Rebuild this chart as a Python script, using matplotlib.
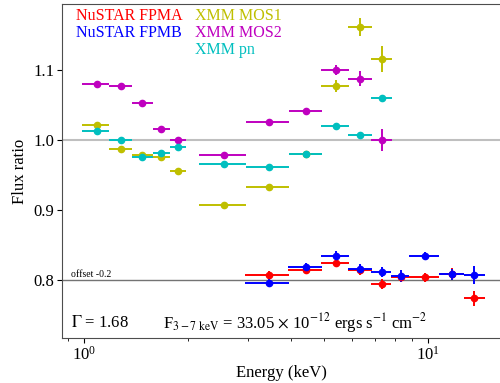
import matplotlib
matplotlib.use('Agg')
import matplotlib.pyplot as plt
import matplotlib.transforms as mtransforms

plt.rcParams['font.family'] = ['Liberation Serif', 'DejaVu Serif']
plt.rcParams['mathtext.fontset'] = 'stix'

# XMM energy bins (keV)
xmm_e = [1.089, 1.282, 1.479, 1.677, 1.871, 2.55, 3.44, 4.42, 5.39, 6.35, 7.34]
xmm_lo = [0.985, 1.185, 1.383, 1.582, 1.773, 2.154, 2.953, 3.94, 4.88, 5.86, 6.82]
xmm_hi = [1.185, 1.383, 1.582, 1.773, 1.983, 2.953, 3.94, 4.93, 5.90, 6.88, 7.85]

mos1 = [1.021, 0.987, 0.978, 0.975, 0.955, 0.907, 0.933, 0.980, 1.076, 1.161, 1.115]
mos1_err = [0.003, 0.002, 0.002, 0.003, 0.004, 0.002, 0.002, 0.003, 0.0085, 0.0125, 0.019]
mos2 = [1.079, 1.076, 1.053, 1.015, 1.000, 0.978, 1.025, 1.041, 1.099, 1.087, 1.000]
mos2_err = [0.002, 0.002, 0.002, 0.003, 0.003, 0.002, 0.002, 0.003, 0.007, 0.011, 0.016]
pn = [1.013, 1.000, 0.975, 0.981, 0.989, 0.965, 0.961, 0.980, 1.019, 1.007, 1.060]
pn_err = [0.001, 0.001, 0.001, 0.002, 0.002, 0.001, 0.001, 0.002, 0.003, 0.004, 0.004]

# NuSTAR energy bins (keV)
nu_e = [3.45, 4.41, 5.39, 6.35, 7.33, 8.34, 9.8, 11.73, 13.65]
nu_lo = [2.94, 3.93, 4.88, 5.86, 6.82, 7.83, 8.82, 10.75, 12.7]
nu_hi = [3.94, 4.93, 5.90, 6.88, 7.83, 8.82, 10.75, 12.7, 14.6]

fpma = [1.007, 1.014, 1.024, 1.014, 0.995, 1.004, 1.004, 1.009, 0.974]
fpma_err = [0.006, 0.006, 0.006, 0.007, 0.007, 0.007, 0.006, 0.008, 0.011]
fpmb = [0.996, 1.018, 1.035, 1.016, 1.011, 1.006, 1.034, 1.008, 1.007]
fpmb_err = [0.006, 0.006, 0.006, 0.007, 0.007, 0.008, 0.006, 0.008, 0.013]

offset = -0.2

fig = plt.figure(figsize=(5.0, 3.83), dpi=100)
ax = fig.add_axes([0.124, 0.1175, 0.878, 0.8721])


def plot_set(e, lo, hi, y, yerr, col, off=0.0):
    xerr = [[c - l for c, l in zip(e, lo)], [h - c for c, h in zip(e, hi)]]
    ax.errorbar(e, [v + off for v in y], xerr=xerr, yerr=yerr, fmt='o',
                color=col, ms=4.5, elinewidth=1.4, capsize=0, zorder=3)


ax.axhline(1.0, color='0.75', lw=1.5, zorder=1)
ax.axhline(1.0 + offset, color='0.45', lw=1.0, zorder=1)

plot_set(nu_e, nu_lo, nu_hi, fpma, fpma_err, 'red', offset)
plot_set(nu_e, nu_lo, nu_hi, fpmb, fpmb_err, 'blue', offset)
plot_set(xmm_e, xmm_lo, xmm_hi, mos1, mos1_err, 'y')
plot_set(xmm_e, xmm_lo, xmm_hi, mos2, mos2_err, 'm')
plot_set(xmm_e, xmm_lo, xmm_hi, pn, pn_err, 'c')

ax.set_xscale('log')
ax.set_xlim(0.863, 16.3)
ax.set_ylim(0.7175, 1.1935)
ax.set_yticks([0.8, 0.9, 1.0, 1.1])
ax.tick_params(labelsize=12, pad=2)
for s in ax.spines.values():
    s.set_color('0.3')
ax.spines['right'].set_visible(False)

ax.set_xlabel('Energy (keV)', fontsize=12, labelpad=1)
ax.set_ylabel('Flux ratio', fontsize=12, labelpad=4)

tA = ax.transAxes
ax.text(0.032, 0.964, 'NuSTAR FPMA', color='red', fontsize=11.5, va='center', transform=tA)
ax.text(0.032, 0.913, 'NuSTAR FPMB', color='blue', fontsize=11.5, va='center', transform=tA)
ax.text(0.304, 0.964, 'XMM MOS1', color='y', fontsize=11.5, va='center', transform=tA)
ax.text(0.304, 0.913, 'XMM MOS2', color='m', fontsize=11.5, va='center', transform=tA)
ax.text(0.304, 0.862, 'XMM pn', color='c', fontsize=11.5, va='center', transform=tA)

blend = mtransforms.blended_transform_factory(ax.transAxes, ax.transData)
ax.text(0.02, 0.8 + 0.002, 'offset -0.2', fontsize=7, va='bottom', transform=blend)

ax.text(0.02, 0.046, r'$\Gamma$ = 1.68', fontsize=12, va='center', transform=tA)
ax.text(0.23, 0.046,
        r'F$_{3-7\ \rm keV}$ = 33.05 $\times$ 10$^{-12}$ ergs s$^{-1}$ cm$^{-2}$',
        fontsize=12, va='center', transform=tA)

fig.savefig('out.png', dpi=100)
